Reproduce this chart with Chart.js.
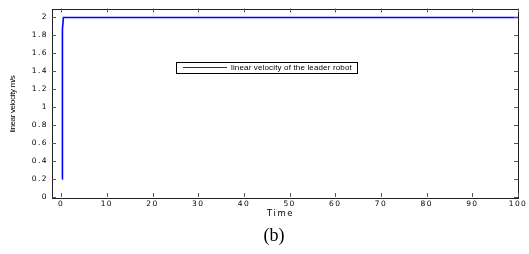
<!DOCTYPE html>
<html>
<head>
<meta charset="utf-8">
<script src="https://cdn.jsdelivr.net/npm/chart.js@4.4.0/dist/chart.umd.min.js"></script>
<style>
  html, body { margin: 0; padding: 0; background: #fff; }
  #wrap { width: 529px; height: 254px; }
</style>
</head>
<body>
<div id="wrap"><canvas id="myChart" width="529" height="254"></canvas></div>
<script>
// leader robot velocity samples (time, m/s)
const timeValues = [0.2, 0.2, 0.25, 0.4, 0.5, 100];
const velocityValues = [0.2, 1.0, 1.87, 1.87, 2, 2];
const xTicks = [0, 10, 20, 30, 40, 50, 60, 70, 80, 90, 100];
const yTicks = [0, 0.2, 0.4, 0.6, 0.8, 1, 1.2, 1.4, 1.6, 1.8, 2];
const seriesLabel = "linear velocity of the leader robot";

const points = timeValues.map((t, i) => ({ x: t, y: velocityValues[i] }));

const tickFont = { family: "'DejaVu Sans', Verdana, sans-serif", size: 7.5 };

// wide spaced tick labels like the matlab export
const spacing = {
  id: "spacing",
  beforeDraw(chart) { chart.ctx.letterSpacing = "1.4px"; },
  afterDatasetsDraw(chart) { chart.ctx.letterSpacing = "0px"; },
};

// matlab style frame, inward ticks, legend box and captions
const matlabFrame = {
  id: "matlabFrame",
  afterDraw(chart) {
    const ctx = chart.ctx;
    const area = chart.chartArea;
    const xs = chart.scales.x;
    const ys = chart.scales.y;
    ctx.save();
    ctx.letterSpacing = "0px";
    ctx.strokeStyle = "#222";
    ctx.lineWidth = 1;
    ctx.strokeRect(Math.round(area.left) + 0.5, Math.round(area.top) + 0.5,
      Math.round(area.right - area.left), Math.round(area.bottom - area.top));

    ctx.beginPath();
    xTicks.forEach(v => {
      const px = Math.round(xs.getPixelForValue(v)) + 0.5;
      ctx.moveTo(px, area.bottom); ctx.lineTo(px, area.bottom - 4);
      ctx.moveTo(px, area.top); ctx.lineTo(px, area.top + 4);
    });
    yTicks.forEach(v => {
      const py = Math.round(ys.getPixelForValue(v)) + 0.5;
      ctx.moveTo(area.left, py); ctx.lineTo(area.left + 4, py);
      ctx.moveTo(area.right, py); ctx.lineTo(area.right - 4, py);
    });
    ctx.strokeStyle = "#555";
    ctx.stroke();

    // legend
    ctx.fillStyle = "#fff";
    ctx.fillRect(176, 62, 181, 11);
    ctx.strokeStyle = "#000";
    ctx.strokeRect(176.5, 62.5, 181, 11);
    ctx.beginPath();
    ctx.moveTo(183, 67.5); ctx.lineTo(227, 67.5);
    ctx.strokeStyle = "#1a1aff";
    ctx.lineWidth = 1.2;
    ctx.stroke();
    ctx.lineWidth = 1;
    ctx.fillStyle = "#000";
    ctx.font = "8px 'Liberation Sans', Arial, sans-serif";
    ctx.textBaseline = "middle";
    ctx.textAlign = "left";
    ctx.letterSpacing = "0.15px";
    ctx.fillText(seriesLabel, 231, 68);

    // axis titles
    ctx.textAlign = "left";
    ctx.letterSpacing = "1.6px";
    ctx.font = "8.5px 'DejaVu Sans', Verdana, sans-serif";
    ctx.fillText("Time", 267, 214);

    ctx.save();
    ctx.letterSpacing = "-0.35px";
    ctx.translate(13, 104);
    ctx.rotate(-Math.PI / 2);
    ctx.textAlign = "center";
    ctx.font = "8px 'Liberation Sans', Arial, sans-serif";
    ctx.fillText("linear velocity m/s", 0, 0);
    ctx.restore();

    ctx.letterSpacing = "0px";
    ctx.textAlign = "center";
    ctx.font = "18px 'Liberation Serif', 'Times New Roman', serif";
    ctx.fillText("(b)", 274, 236);
    ctx.restore();
  }
};

const ctx = document.getElementById("myChart").getContext("2d");
const myChart = new Chart(ctx, {
  type: "line",
  data: {
    datasets: [
      {
        label: seriesLabel,
        data: points,
        borderColor: "#0000ff",
        borderWidth: 1.6,
        pointRadius: 0,
        tension: 0,
        fill: false,
      },
    ],
  },
  options: {
    responsive: false,
    animation: false,
    layout: { padding: { top: 7, right: 11, left: 0, bottom: 0 } },
    plugins: {
      legend: { display: false },
      tooltip: { enabled: false },
    },
    scales: {
      x: {
        type: "linear",
        min: -2,
        max: 100,
        afterBuildTicks: (s) => { s.ticks = xTicks.map(v => ({ value: v })); },
        afterFit: (s) => { s.height = 57; },
        grid: { display: false, drawTicks: false },
        border: { display: false },
        ticks: {
          color: "#000",
          font: tickFont,
          padding: 3,
          maxRotation: 0,
          autoSkip: false,
          callback: (v) => String(v),
        },
      },
      y: {
        min: 0,
        max: 2.1,
        afterBuildTicks: (s) => { s.ticks = yTicks.map(v => ({ value: v })); },
        afterFit: (s) => { s.width = 52; },
        grid: { display: false, drawTicks: false },
        border: { display: false },
        ticks: {
          color: "#000",
          font: tickFont,
          padding: 4,
          autoSkip: false,
          callback: (v) => String(Math.round(v * 10) / 10),
        },
      },
    },
  },
  plugins: [spacing, matlabFrame],
});
</script>
</body>
</html>
